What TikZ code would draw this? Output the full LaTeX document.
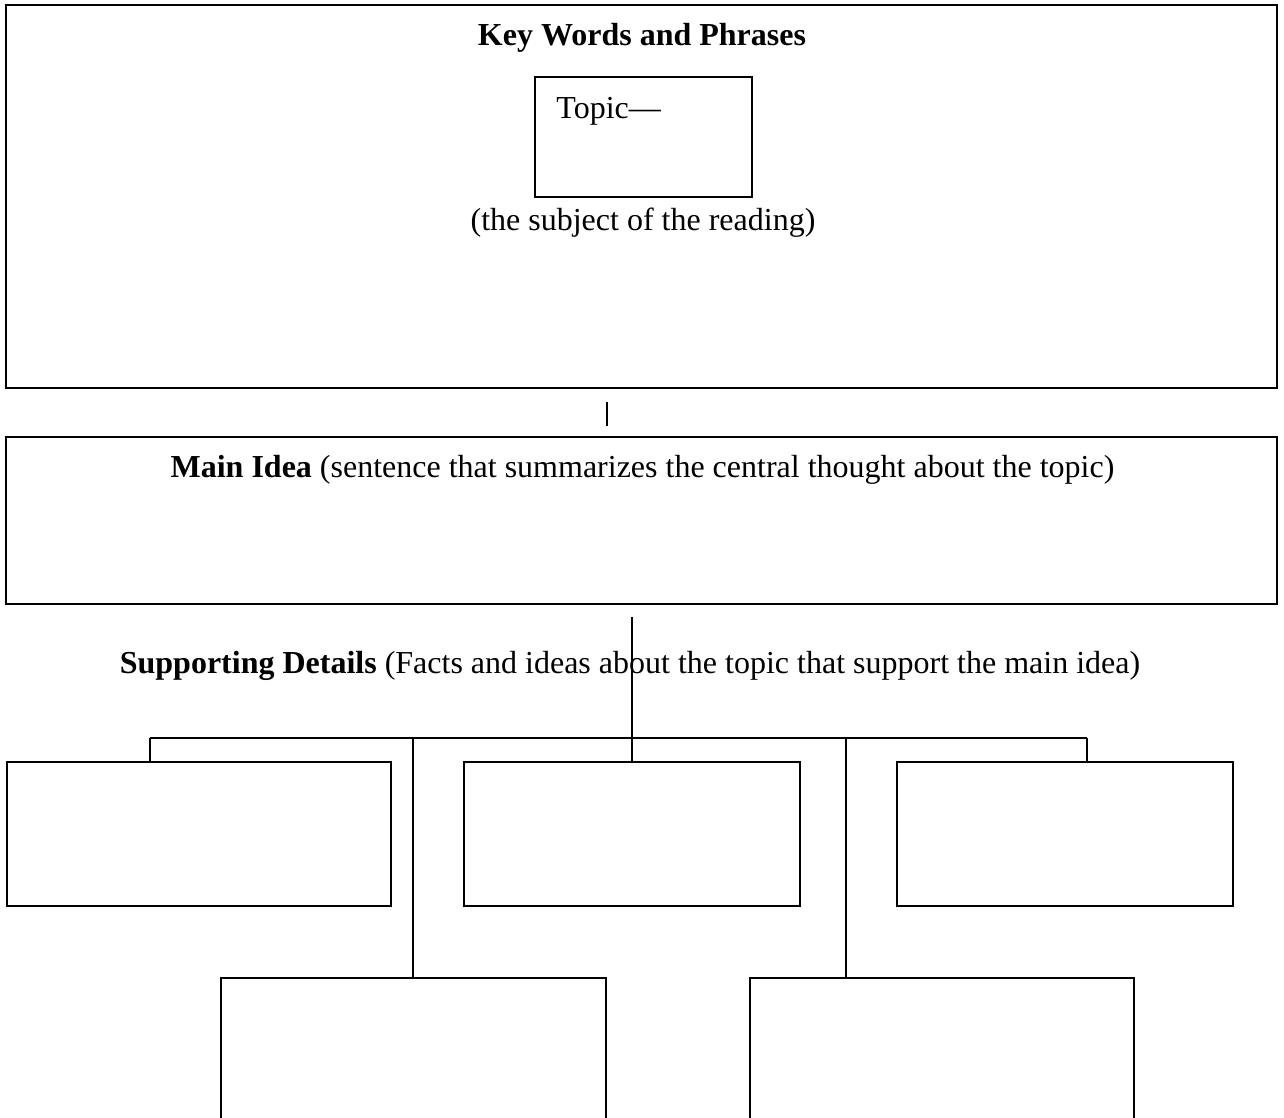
\documentclass[tikz,border=0pt]{standalone}
\usepackage{fontspec}
\setmainfont{Liberation Serif}
\begin{document}
\begin{tikzpicture}[x=0.5pt,y=-0.5pt,
  framebox/.style={draw,line width=1pt,inner sep=0pt},
  link/.style={line width=0.65pt},
  words/.style={inner sep=0pt,anchor=base,font=\fontsize{16}{19}\selectfont}]
\useasboundingbox (0,0) rectangle (1284,1118);
\clip (0,0) rectangle (1284,1118);
% key words
\node[framebox,minimum width=635.5pt,minimum height=191.5pt] (keybox) at (641.5,196.5) {};
\node[words] (keytitle) at (642,46) {\textbf{Key Words and Phrases}};
\node[framebox,line width=0.8pt,minimum width=108.5pt,minimum height=60pt] (topicbox) at (643.5,137) {};
\node[words,anchor=base west] (topic) at (556,119) {Topic—};
\node[words] (subject) at (643,231) {(the subject of the reading)};
\coordinate (gaptop) at (607,402);
\coordinate (gapbot) at (607,426);
\draw[link] (gaptop) -- (gapbot);
% main idea
\node[framebox,minimum width=635.5pt,minimum height=83.5pt] (mainbox) at (641.5,520.5) {};
\node[words] (maintext) at (642.5,477) {\textbf{Main Idea} (sentence that summarizes the central thought about the topic)};
% supporting details
\node[words] (details) at (630,673) {\textbf{Supporting Details} (Facts and ideas about the topic that support the main idea)};
\foreach \nm/\cx/\w in {d1/199/192,d2/632/168,d3/1065/168}
  {\node[framebox,minimum width=\w pt,minimum height=72pt] (\nm) at (\cx,834) {};}
\foreach \nm/\cx/\w in {e1/413.5/192.5,e2/942/192}
  {\node[framebox,minimum width=\w pt,minimum height=85pt] (\nm) at (\cx,1063) {};}
\coordinate (stemtop) at (632,617);
\coordinate (busL) at (150,738);
\coordinate (busR) at (1087,738);
\coordinate (busA) at (413,738);
\coordinate (busB) at (846,738);
\draw[link] (stemtop) -- (d2.north);
\draw[link] (busL) -- (busR);
\draw[link] (busL) -- (busL |- d1.north);
\draw[link] (busR) -- (busR |- d3.north);
\draw[link] (busA) -- (busA |- e1.north);
\draw[link] (busB) -- (busB |- e2.north);
\end{tikzpicture}
\end{document}
